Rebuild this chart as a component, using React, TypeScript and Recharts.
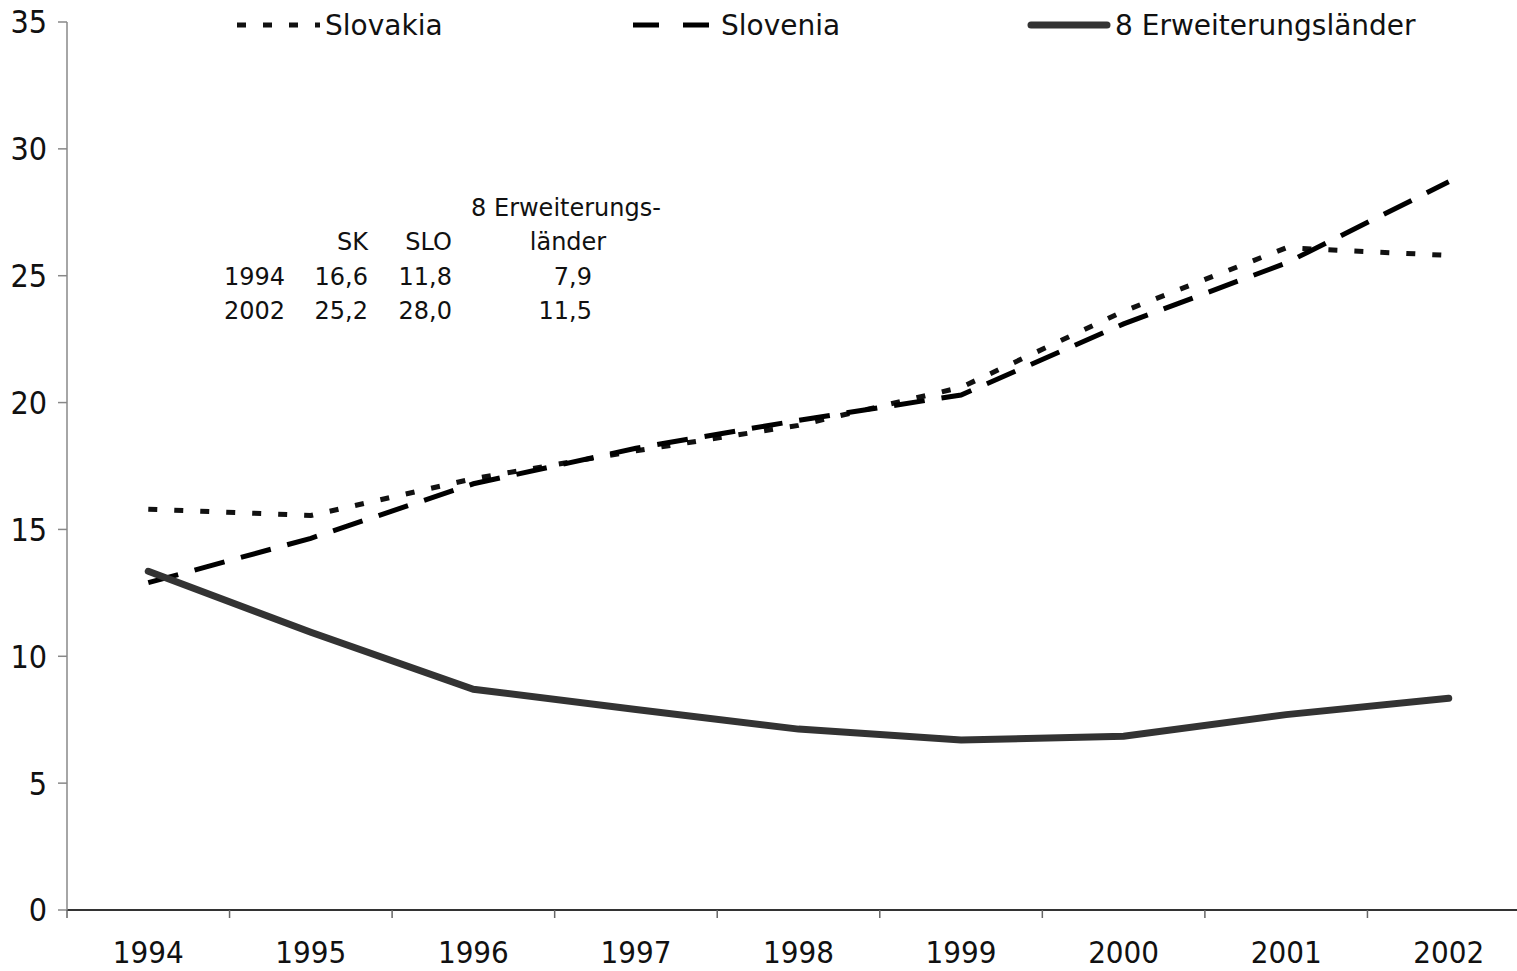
import React from "react";
import { LineChart, Line, XAxis, YAxis, Legend } from "recharts";

const years = ["1994", "1995", "1996", "1997", "1998", "1999", "2000", "2001", "2002"];
const slovakia = [15.8, 15.55, 17.0, 18.1, 19.1, 20.6, 23.6, 26.1, 25.8];
const slovenia = [12.9, 14.65, 16.8, 18.2, 19.3, 20.3, 23.1, 25.5, 28.7];
const erweiterung = [13.35, 10.95, 8.7, 7.9, 7.13, 6.7, 6.85, 7.7, 8.35];
const yTicks = [0, 5, 10, 15, 20, 25, 30, 35];

// small summary table drawn in the upper left of the plot
const tableHeader = ["SK", "SLO", "länder"];
const tableRows = [
  ["1994", "16,6", "11,8", "7,9"],
  ["2002", "25,2", "28,0", "11,5"],
];

const W = 1517;
const H = 971;
const LEFT = 67;
const RIGHT_MARGIN = -13;
const BAND = (W - LEFT - RIGHT_MARGIN) / years.length;

const data = years.map((year, i) => ({
  year,
  slovakia: slovakia[i],
  slovenia: slovenia[i],
  erw: erweiterung[i],
}));

const series = [
  { key: "slovakia", name: "Slovakia", color: "#111", width: 5, dash: "9 17", cap: "butt" as const },
  { key: "slovenia", name: "Slovenia", color: "#000", width: 5, dash: "31 17", cap: "butt" as const },
  { key: "erw", name: "8 Erweiterungsländer", color: "#333", width: 7, dash: undefined, cap: "round" as const },
];

const legendX = [237, 633, 1027];
const legendDash = ["9 17", "26 24", undefined];

const axisFont = "'DejaVu Sans Condensed', 'DejaVu Sans', sans-serif";
const textFont = "'DejaVu Sans', sans-serif";

const renderLegend = () => (
  <div style={{ position: "relative", height: 22 }}>
    {series.map((s, i) => (
      <div
        key={s.key}
        style={{
          position: "absolute",
          left: legendX[i],
          top: 8,
          display: "flex",
          alignItems: "center",
          whiteSpace: "nowrap",
          height: 34,
        }}
      >
        <svg width={84} height={12}>
          <line
            x1={s.cap === "round" ? 4 : 0}
            y1={6}
            x2={s.cap === "round" ? 80 : 83}
            y2={6}
            stroke={s.color}
            strokeWidth={s.width}
            strokeDasharray={legendDash[i]}
            strokeLinecap={s.cap}
          />
        </svg>
        <span
          style={{
            marginLeft: 4,
            fontFamily: textFont,
            fontSize: 28,
            color: "#111",
          }}
        >
          {s.name}
        </span>
      </div>
    ))}
  </div>
);

// label at the category centre, tick mark on the left band boundary
const XTick = (props: any) => {
  const { x, y, payload } = props;
  return (
    <g>
      <line x1={x - BAND / 2} y1={y - 8} x2={x - BAND / 2} y2={y} stroke="#666" strokeWidth={1.5} />
      <text
        x={x}
        y={y + 45}
        textAnchor="middle"
        fontFamily={axisFont}
        fontSize={31}
        fill="#111"
      >
        {payload.value}
      </text>
    </g>
  );
};

const SummaryTable = () => {
  const colEnds = [285, 368, 452, 592];
  const rowY = [285, 319];
  return (
    <svg
      width={700}
      height={340}
      style={{ position: "absolute", left: 0, top: 0, pointerEvents: "none" }}
      fontFamily={textFont}
      fontSize={24}
      fill="#111"
    >
      <text x={566} y={216} textAnchor="middle">8 Erweiterungs-</text>
      <text x={colEnds[1]} y={250} textAnchor="end">{tableHeader[0]}</text>
      <text x={colEnds[2]} y={250} textAnchor="end">{tableHeader[1]}</text>
      <text x={568} y={250} textAnchor="middle">{tableHeader[2]}</text>
      {tableRows.map((row, r) =>
        row.map((cell, c) => (
          <text key={`${r}-${c}`} x={colEnds[c]} y={rowY[r]} textAnchor="end">
            {cell}
          </text>
        ))
      )}
    </svg>
  );
};

export default function App() {
  return (
    <div style={{ position: "relative", width: W, height: H, overflow: "hidden", background: "#fff" }}>
      <style>{"body{margin:0;overflow:hidden}"}</style>
      <LineChart
        width={W}
        height={H}
        data={data}
        margin={{ top: 0, right: RIGHT_MARGIN, bottom: 0, left: 0 }}
      >
        <Legend verticalAlign="top" align="left" content={renderLegend} />
        <XAxis
          dataKey="year"
          height={61}
          padding={{ left: BAND / 2, right: BAND / 2 }}
          stroke="#333"
          strokeWidth={2}
          tickLine={false}
          tickSize={8}
          tickMargin={0}
          tick={<XTick />}
          interval={0}
        />
        <YAxis
          width={LEFT}
          domain={[0, 35]}
          ticks={yTicks}
          interval={0}
          stroke="#888"
          strokeWidth={1.5}
          tickSize={9}
          tickMargin={11}
          tick={{ fontFamily: axisFont, fontSize: 32, fill: "#111" }}
        />
        {series.map((s) => (
          <Line
            key={s.key}
            dataKey={s.key}
            name={s.name}
            type="linear"
            stroke={s.color}
            strokeWidth={s.width}
            strokeDasharray={s.dash}
            strokeLinecap={s.cap}
            dot={false}
            activeDot={false}
            isAnimationActive={false}
          />
        ))}
      </LineChart>
      <SummaryTable />
    </div>
  );
}
